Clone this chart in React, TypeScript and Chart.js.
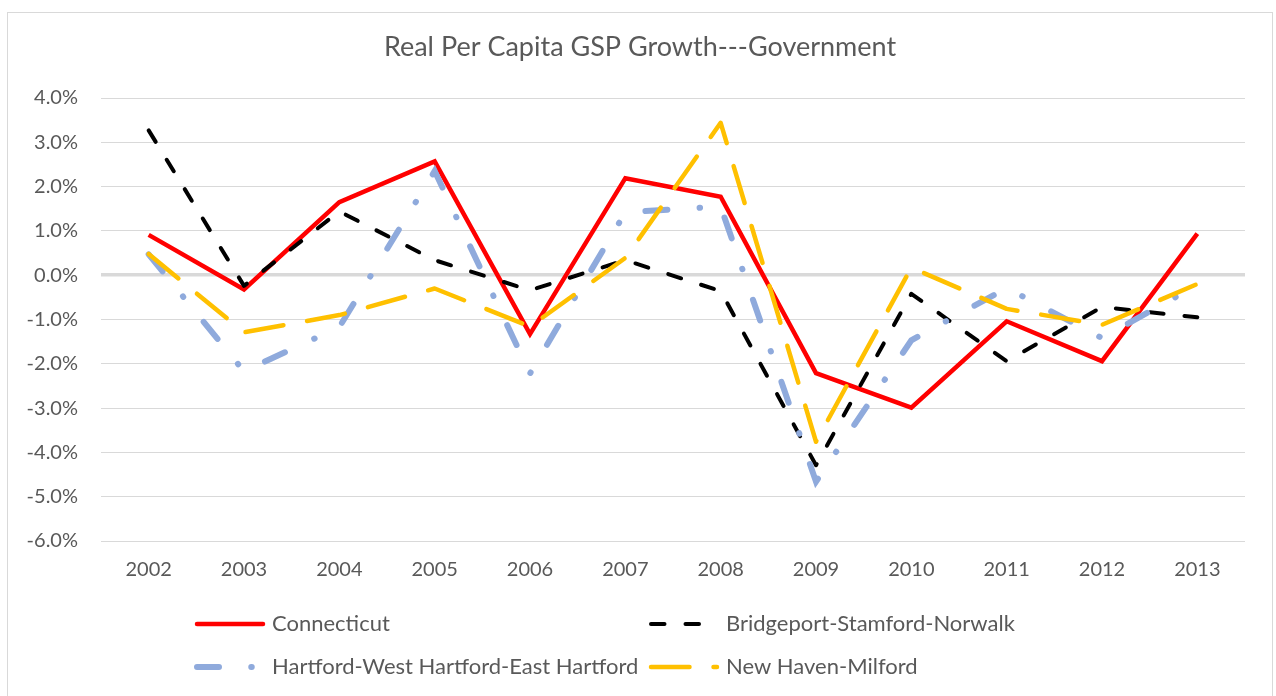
import React, { useEffect, useRef } from 'react';
import { Chart, registerables } from 'chart.js';

Chart.register(...registerables);

// ---- data ----
const years = ['2002', '2003', '2004', '2005', '2006', '2007', '2008', '2009', '2010', '2011', '2012', '2013'];
const connecticut = [0.91, -0.32, 1.65, 2.57, -1.33, 2.19, 1.77, -2.21, -2.99, -1.04, -1.94, 0.94];
const bridgeport = [3.27, -0.24, 1.44, 0.34, -0.34, 0.34, -0.36, -4.29, -0.42, -1.94, -0.72, -0.95];
const hartford = [0.47, -2.17, -1.17, 2.35, -2.22, 1.42, 1.55, -4.66, -1.47, -0.29, -1.42, -0.22];
const newHaven = [0.48, -1.29, -0.9, -0.3, -1.16, 0.39, 3.44, -3.76, 0.17, -0.76, -1.12, -0.2];
const seriesNames = ['Connecticut', 'Bridgeport-Stamford-Norwalk', 'Hartford-West Hartford-East Hartford', 'New Haven-Milford'];
const yMin = -6;
const yMax = 4;
const yStep = 1;
const titleText = 'Real Per Capita GSP Growth---Government';

const FONT = 'Lato, Carlito, "Open Sans", sans-serif';
const TEXT = '#595959';
const GRID = '#D9D9D9';

const CANVAS_W = 1264;
const CANVAS_H = 683;

const titlePlugin = {
  id: 'customTitle',
  afterDraw(chart: any) {
    const ctx = chart.ctx;
    ctx.save();
    ctx.font = `27px ${FONT}`;
    ctx.fillStyle = TEXT;
    ctx.textAlign = 'center';
    ctx.textBaseline = 'middle';
    ctx.fillText(titleText, chart.width / 2, 34);
    ctx.restore();
  },
};

const legendPlugin = {
  id: 'customLegend',
  afterDraw(chart: any) {
    const ctx = chart.ctx;
    const cols = [187, 641];
    const rows = [611, 654];
    chart.data.datasets.forEach((d: any, i: number) => {
      const x = cols[i % 2];
      const y = rows[Math.floor(i / 2)];
      ctx.save();
      ctx.strokeStyle = d.borderColor;
      ctx.lineWidth = d.borderWidth;
      ctx.lineCap = 'round';
      ctx.setLineDash(d.borderDash || []);
      ctx.beginPath();
      ctx.moveTo(x + 2, y);
      ctx.lineTo(x + 68, y);
      ctx.stroke();
      ctx.setLineDash([]);
      ctx.fillStyle = TEXT;
      ctx.font = `22px ${FONT}`;
      ctx.textAlign = 'left';
      ctx.textBaseline = 'middle';
      ctx.fillText(d.label, x + 77, y);
      ctx.restore();
    });
  },
};

export default function App() {
  const ref = useRef<HTMLCanvasElement>(null);

  useEffect(() => {
    let chart: Chart | null = null;
    let cancelled = false;
    const build = () => {
      if (cancelled || !ref.current) return;
      chart = new Chart(ref.current, {
        type: 'line',
        data: {
          labels: years,
          datasets: [
            {
              label: seriesNames[0],
              data: connecticut,
              borderColor: '#FF0000',
              backgroundColor: '#FF0000',
              borderWidth: 4.5,
              borderJoinStyle: 'miter',
              borderCapStyle: 'butt',
              pointRadius: 0,
              tension: 0,
              order: 3,
            },
            {
              label: seriesNames[1],
              data: bridgeport,
              borderColor: '#000000',
              backgroundColor: '#000000',
              borderWidth: 4,
              borderDash: [13.5, 21],
              borderCapStyle: 'round',
              borderJoinStyle: 'round',
              pointRadius: 0,
              tension: 0,
              order: 2,
            },
            {
              label: seriesNames[2],
              data: hartford,
              borderColor: '#8FAADC',
              backgroundColor: '#8FAADC',
              borderWidth: 6,
              borderDash: [22, 32.25, 0.5, 32.25],
              borderCapStyle: 'round',
              borderJoinStyle: 'miter',
              pointRadius: 0,
              tension: 0,
              order: 1,
            },
            {
              label: seriesNames[3],
              data: newHaven,
              borderColor: '#FFC000',
              backgroundColor: '#FFC000',
              borderWidth: 4.5,
              borderDash: [38.5, 24],
              borderCapStyle: 'round',
              borderJoinStyle: 'round',
              pointRadius: 0,
              tension: 0,
              order: 0,
            },
          ],
        },
        options: {
          animation: false,
          responsive: false,
          devicePixelRatio: 1,
          layout: { padding: { top: 85, left: 0, right: 27, bottom: 114 } },
          plugins: {
            legend: { display: false },
            title: { display: false },
            tooltip: { enabled: false },
          },
          scales: {
            x: {
              type: 'category',
              offset: true,
              grid: { display: false, drawTicks: false },
              border: { display: false },
              ticks: {
                color: TEXT,
                font: { family: FONT, size: 20 },
                padding: 17,
                maxRotation: 0,
                autoSkip: false,
              },
              afterFit: (scale: any) => {
                scale.height = 41;
              },
            },
            y: {
              min: yMin,
              max: yMax,
              grid: {
                color: GRID,
                lineWidth: (c: any) => (c.tick && c.tick.value === 0 ? 3.5 : 1),
                drawTicks: false,
              },
              border: { display: false },
              ticks: {
                stepSize: yStep,
                color: TEXT,
                font: { family: FONT, size: 20 },
                padding: 23,
                callback: (v: any) => `${Number(v).toFixed(1)}%`,
              },
              afterFit: (scale: any) => {
                scale.width = 93;
              },
            },
          },
        },
        plugins: [titlePlugin, legendPlugin],
      } as any);
    };
    const fonts: any = (document as any).fonts;
    if (fonts && fonts.load) {
      Promise.all([fonts.load(`20px Lato`), fonts.load(`27px Lato`)]).then(build, build);
    } else {
      build();
    }
    return () => {
      cancelled = true;
      if (chart) chart.destroy();
    };
  }, []);

  return (
    <div
      style={{
        position: 'absolute',
        left: 7,
        top: 12,
        width: 1266,
        height: 684,
        boxSizing: 'border-box',
        borderTop: `1px solid ${GRID}`,
        borderLeft: `1px solid ${GRID}`,
        borderRight: `1px solid ${GRID}`,
        background: '#FFFFFF',
      }}
    >
      <canvas ref={ref} width={CANVAS_W} height={CANVAS_H} style={{ display: 'block', width: CANVAS_W, height: CANVAS_H }} />
    </div>
  );
}
